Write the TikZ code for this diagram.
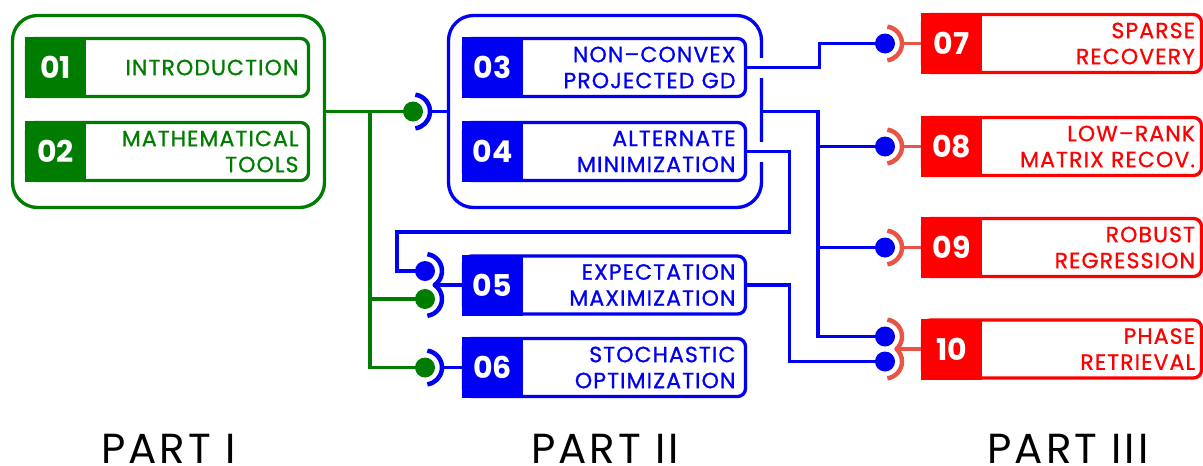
\documentclass[tikz,border=0pt]{standalone}
\usepackage{fontspec}
\setmainfont{Poppins}
\newfontfamily\itemfam{Poppins}[FakeBold=0.9, LetterSpace=5]
\newfontfamily\partfam{Poppins}[LetterSpace=7]
\usetikzlibrary{calc}
\definecolor{cg}{RGB}{0,125,0}
\definecolor{cb}{RGB}{0,0,242}
\definecolor{cr}{RGB}{255,0,0}
\definecolor{cs}{RGB}{232,85,70}
\newcommand\itemfont{\itemfam\fontsize{22}{26}\selectfont}
\newcommand\numfont{\fontsize{30}{30}\selectfont\bfseries}
\newcommand\partfont{\partfam\fontsize{42}{42}\selectfont}
\begin{document}
\begin{tikzpicture}[x=1pt,y=-1pt,
  grp/.style={draw=#1, line width=3.3, rounded corners=25, minimum height=192, inner sep=0},
  item/.style={draw=#1, text=#1, fill=white, line width=3.3, rounded corners=8, minimum height=58, inner ysep=0, align=right, font=\itemfont},
  itemgb/.style={item=#1, inner xsep=10, text width=262},
  itemr/.style={item=#1, inner xsep=6.5, text width=266},
  num/.style={fill=#1, text=white, minimum width=61, minimum height=61, inner sep=0, font=\numfont},
  ball/.style={circle, fill=#1, minimum size=20, inner sep=0},
  wire/.style={draw=#1, line width=3.3},
  cup/.style={draw=#1, line width=4.5, line join=round},
  gap/.style={fill=white},
  part/.style={anchor=base, font=\partfont, text=black, inner sep=0},
]
\useasboundingbox (0,0) rectangle (1203,466);

% groups
\node[grp=cg, minimum width=312] (g1) at (168.5,111.5) {};
\node[grp=cb, minimum width=313] (g2) at (605,111.5) {};

% part I items
\node[itemgb=cg] (b01) at (167.5,67.5) {INTRODUCTION};
\node[num=cg] (n01) at (55.5,67.5) {01};
\node[itemgb=cg] (b02) at (167.5,151.5) {MATHEMATICAL\\TOOLS};
\node[num=cg] (n02) at (55.5,151.5) {02};

% part II items
\node[itemgb=cb] (b03) at (604.5,67.5) {NON–CONVEX\\PROJECTED GD};
\node[num=cb] (n03) at (492.5,67.5) {03};
\node[itemgb=cb] (b04) at (604.5,151.5) {ALTERNATE\\MINIMIZATION};
\node[num=cb] (n04) at (492.5,151.5) {04};
\node[itemgb=cb] (b05) at (604.5,285) {EXPECTATION\\MAXIMIZATION};
\node[num=cb] (n05) at (492.5,285) {05};
\node[itemgb=cb] (b06) at (604.5,367.5) {STOCHASTIC\\OPTIMIZATION};
\node[num=cb] (n06) at (492.5,367.5) {06};

% part III items
\node[itemr=cr] (b07) at (1062,43.5) {SPARSE\\RECOVERY};
\node[num=cr] (n07) at (951.5,43.5) {07};
\node[itemr=cr] (b08) at (1062,146.5) {LOW–RANK\\MATRIX RECOV.};
\node[num=cr] (n08) at (951.5,146.5) {08};
\node[itemr=cr] (b09) at (1062,247.5) {ROBUST\\REGRESSION};
\node[num=cr] (n09) at (951.5,247.5) {09};
\node[itemr=cr] (b10) at (1062,349) {PHASE\\RETRIEVAL};
\node[num=cr] (n10) at (951.5,349) {10};

% socket positions
\coordinate (s1) at (413,111.5);
\coordinate (s5b) at (425,271);
\coordinate (s5g) at (425,299);
\coordinate (s6) at (425,367.5);
\coordinate (s7) at (885,43.5);
\coordinate (s8) at (885,146.5);
\coordinate (s9) at (885,247.5);
\coordinate (s10a) at (885,336.5);
\coordinate (s10b) at (885,361.5);
\coordinate (j1) at (370,111.5);
\coordinate (j2) at (818,111.5);

% gaps in the blue group where wires cross
\fill[gap] ($(g2.east |- b03.east)+(-5,-10)$) rectangle ++(10,20);
\fill[gap] ($(g2.east |- b04.east)+(-5,-10)$) rectangle ++(10,20);

% green wires
\draw[wire=cg] (g1.east) -- (s1);
\draw[wire=cg] (j1) |- (s6);
\draw[wire=cg] (j1 |- s5g) -- (s5g);

% blue wires
\draw[wire=cb] (b03.east) -- ++(72.5,0) |- (s7);
\draw[wire=cb] (g2.east) -- (j2) |- (s10a);
\draw[wire=cb] (j2 |- s8) -- (s8);
\draw[wire=cb] (j2 |- s9) -- (s9);
\draw[wire=cb] (b04.east) -- ++(42.5,0) -- ++(0,80.5) -| ($(s5b)+(-28,0)$) -- (s5b);
\draw[wire=cb] (b05.east) -- ++(42.5,0) |- (s10b);

% stubs
\draw[wire=cb] ($(s1)+(17,0)$) -- (s1 -| g2.west);
\draw[wire=cb] ($(s5b)!0.5!(s5g)+(9,0)$) -- (n05.west);
\draw[wire=cb] ($(s6)+(17,0)$) -- (n06.west);
\draw[wire=cs] ($(s7)+(17,0)$) -- (n07.west);
\draw[wire=cs] ($(s8)+(17,0)$) -- (n08.west);
\draw[wire=cs] ($(s9)+(17,0)$) -- (n09.west);
\draw[wire=cs] ($(s10a)!0.5!(s10b)+(11,0)$) -- (n10.west);

% cups
\draw[cup=cb] ($(s1)+(-82:17)$) arc[start angle=-82, end angle=82, radius=17];
\draw[cup=cb] ($(s5b)+(-82:17)$) arc[start angle=-82, end angle=55.4, radius=17] arc[start angle=-55.4, end angle=82, radius=17];
\draw[cup=cb] ($(s6)+(-82:17)$) arc[start angle=-82, end angle=82, radius=17];
\draw[cup=cs] ($(s7)+(-82:17)$) arc[start angle=-82, end angle=82, radius=17];
\draw[cup=cs] ($(s8)+(-82:17)$) arc[start angle=-82, end angle=82, radius=17];
\draw[cup=cs] ($(s9)+(-82:17)$) arc[start angle=-82, end angle=82, radius=17];
\draw[cup=cs] ($(s10a)+(-82:17)$) arc[start angle=-82, end angle=47.3, radius=17] arc[start angle=-47.3, end angle=82, radius=17];

% balls
\node[ball=cg] (k1) at (s1) {};
\node[ball=cb] (k5b) at (s5b) {};
\node[ball=cg] (k5g) at (s5g) {};
\node[ball=cg] (k6) at (s6) {};
\node[ball=cb] (k7) at (s7) {};
\node[ball=cb] (k8) at (s8) {};
\node[ball=cb] (k9) at (s9) {};
\node[ball=cb] (k10a) at (s10a) {};
\node[ball=cb] (k10b) at (s10b) {};

% part labels
\node[part] (p1) at (168.5,463) {PART I};
\node[part] (p2) at (605,463) {PART II};
\node[part] (p3) at (1068,463) {PART III};
\end{tikzpicture}
\end{document}
